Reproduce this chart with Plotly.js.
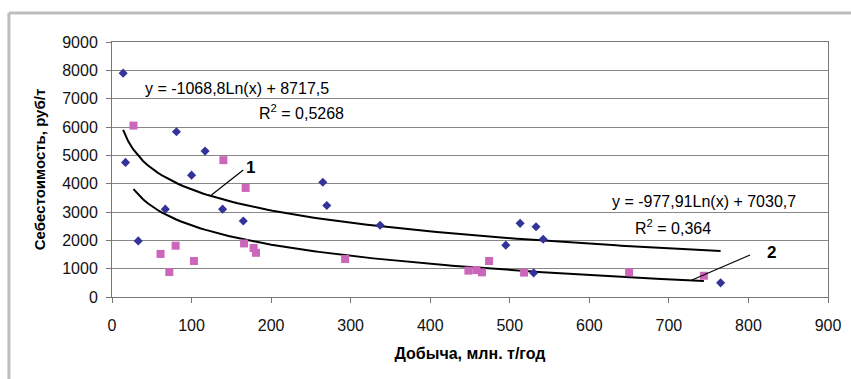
<!DOCTYPE html>
<html>
<head>
<meta charset="utf-8">
<script src="https://cdn.plot.ly/plotly-3.0.1.min.js"></script>
<style>html,body{margin:0;padding:0;background:#fff;}#chart{width:851px;height:379px;}</style>
</head>
<body>
<div id="chart"></div>
<script>
// Series 1 (diamonds)
const s1X = [14, 17, 81, 117, 100, 33, 67, 139, 165, 265, 270, 337, 495, 513, 533, 542, 530, 765];
const s1Y = [7900, 4750, 5830, 5150, 4300, 1980, 3100, 3100, 2680, 4050, 3230, 2530, 1830, 2600, 2480, 2040, 850, 500];
// Series 2 (squares)
const s2X = [27, 140, 168, 61, 72, 80, 103, 166, 178, 181, 293, 448, 458, 465, 474, 518, 650, 744];
const s2Y = [6050, 4830, 3850, 1520, 880, 1810, 1270, 1890, 1730, 1560, 1340, 930, 950, 870, 1270, 860, 870, 750];
// Logarithmic trendline coefficients shown on chart
const trend1 = {a: -1068.8, b: 8717.5, label: 'y = -1068,8Ln(x) + 8717,5', r2: 'R<sup>2</sup> = 0,5268'};
const trend2 = {a: -977.91, b: 7030.7, label: 'y = -977,91Ln(x) + 7030,7', r2: 'R<sup>2</sup> = 0,364'};
const xTicks = [0, 100, 200, 300, 400, 500, 600, 700, 800, 900];
const yTicks = [0, 1000, 2000, 3000, 4000, 5000, 6000, 7000, 8000, 9000];

function trendLine(xs, t) {
  const lo = Math.min(...xs), hi = Math.max(...xs);
  const xx = [], yy = [];
  const n = 120;
  for (let i = 0; i <= n; i++) {
    const x = lo + (hi - lo) * i / n;
    xx.push(x); yy.push(t.a * Math.log(x) + t.b);
  }
  return {xx, yy};
}
const t1 = trendLine(s1X, trend1);
const t2 = trendLine(s2X, trend2);

const font = 'Liberation Sans, Arial, sans-serif';
const data = [
  {x: t1.xx, y: t1.yy, mode: 'lines', line: {color: '#000', width: 2}, showlegend: false, hoverinfo: 'skip'},
  {x: t2.xx, y: t2.yy, mode: 'lines', line: {color: '#000', width: 2}, showlegend: false, hoverinfo: 'skip'},
  {x: s1X, y: s1Y, mode: 'markers', marker: {symbol: 'diamond', size: 7, color: '#333399'}, showlegend: false},
  {x: s2X, y: s2Y, mode: 'markers', marker: {symbol: 'square', size: 8, color: '#cc66bb'}, showlegend: false}
];

const ann = (x, y, text, extra) => Object.assign({x, y, xref: 'x', yref: 'y', text, showarrow: false,
  font: {family: font, size: 16, color: '#000'}}, extra || {});

const layout = {
  width: 851, height: 379,
  margin: {l: 112, r: 23, t: 42, b: 82},
  paper_bgcolor: '#fff', plot_bgcolor: '#fff',
  font: {family: font, size: 16, color: '#000'},
  xaxis: {
    range: [0, 900], tickvals: xTicks, ticktext: xTicks.map(String),
    showgrid: false, zeroline: false, showline: true, linecolor: '#777', linewidth: 1, mirror: true,
    ticks: 'outside', ticklen: 5, tickcolor: '#777', ticklabelstandoff: 9,
    tickfont: {family: font, size: 16, color: '#111'},
    title: {text: '<b>Добыча, млн. т/год</b>', font: {family: font, size: 16, color: '#000'}, standoff: 14}
  },
  yaxis: {
    range: [0, 9000], tickvals: yTicks, ticktext: yTicks.map(String),
    showgrid: true, gridcolor: '#888', gridwidth: 1, zeroline: false,
    showline: true, linecolor: '#777', linewidth: 1, mirror: true,
    ticks: 'outside', ticklen: 5, tickcolor: '#777', ticklabelstandoff: 5,
    tickfont: {family: font, size: 16, color: '#111'},
    title: {text: '<b>Себестоимость, руб/т</b>', font: {family: font, size: 15, color: '#000'}, standoff: 12}
  },
  annotations: [
    ann(157, 7370, trend1.label),
    ann(238, 6530, trend1.r2),
    ann(744, 3360, trend2.label),
    ann(705, 2460, trend2.r2),
    ann(174, 4560, '<b>1</b>', {font: {family: font, size: 17, color: '#000'}}),
    ann(829, 1570, '<b>2</b>', {font: {family: font, size: 17, color: '#000'}})
  ],
  shapes: [
    {type: 'line', xref: 'x', yref: 'y', x0: 165, y0: 4480, x1: 125, y1: 3600, line: {color: '#000', width: 1.2}},
    {type: 'line', xref: 'x', yref: 'y', x0: 802, y0: 1480, x1: 729, y1: 600, line: {color: '#000', width: 1.2}},
    // outer frame (gray)
    {type: 'line', xref: 'paper', yref: 'paper', x0: -0.144, y0: 1.114, x1: 1.04, y1: 1.114, line: {color: '#bdbdbd', width: 3}},
    {type: 'line', xref: 'paper', yref: 'paper', x0: -0.144, y0: 1.114, x1: -0.144, y1: -0.33, line: {color: '#bdbdbd', width: 3}}
  ]
};

Plotly.newPlot('chart', data, layout, {displayModeBar: false, staticPlot: true});
</script>
</body>
</html>
